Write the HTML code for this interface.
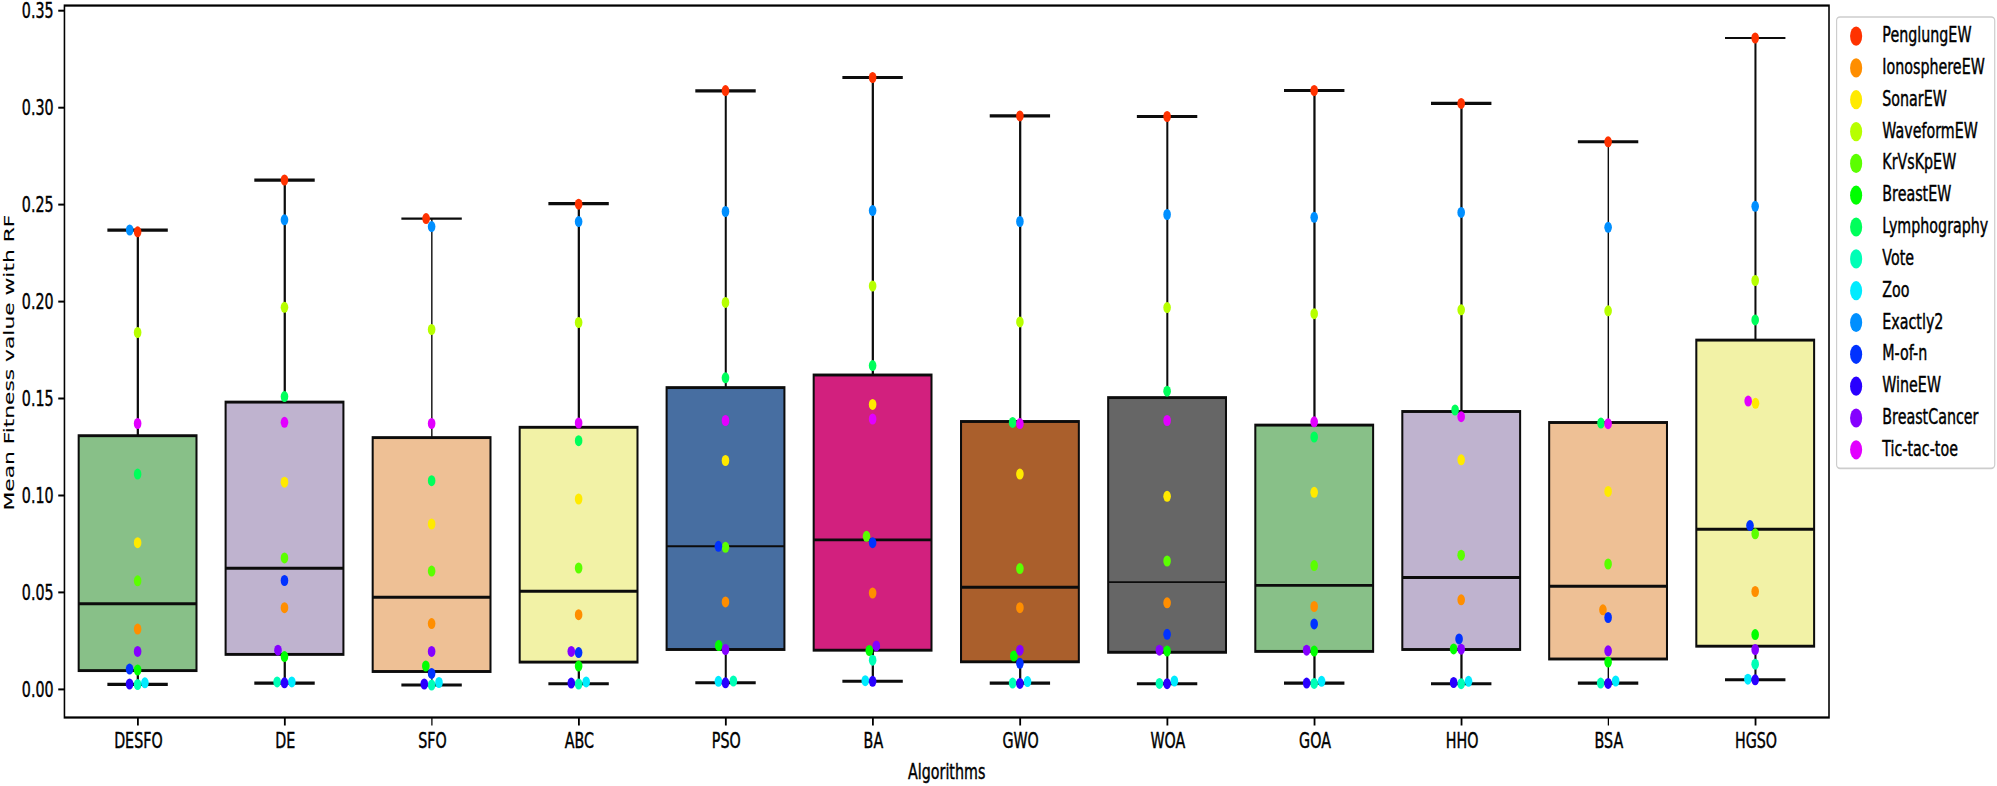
<!DOCTYPE html>
<html lang="en"><head><meta charset="utf-8"><title>Mean Fitness value with RF</title>
<style>html,body{margin:0;padding:0;background:#fff}svg{display:block}</style></head>
<body>
<svg width="1997" height="786" viewBox="0 0 1997 786" font-family='"DejaVu Sans","Liberation Sans",sans-serif' fill="#000">
<rect width="1997" height="786" fill="#fff"/>
<g transform="scale(0.7 1)">
<g stroke="#0c0c0c" fill="none">
<path d="M196.9 230.2V435.7M196.9 670.6V684.4" stroke-width="3.2"/>
<path d="M153.4 230.2H239.7" stroke-width="3.2"/>
<path d="M153.4 684.4H239.7" stroke-width="3.1"/>
<rect x="112.4" y="435.7" width="168.3" height="234.9" fill="#88c088" stroke-width="2.9"/>
<path d="M112.4 603.7H280.7" stroke-width="2.9"/>
</g>
<g stroke="#0c0c0c" fill="none">
<path d="M406.8 180.1V402.1M406.8 654.4V683.1" stroke-width="3.2"/>
<path d="M363.3 180.1H449.6" stroke-width="3.2"/>
<path d="M363.3 683.1H449.6" stroke-width="3.1"/>
<rect x="322.3" y="402.1" width="168.3" height="252.3" fill="#bfb3cf" stroke-width="2.9"/>
<path d="M322.3 568.3H490.6" stroke-width="2.9"/>
</g>
<g stroke="#0c0c0c" fill="none">
<path d="M616.9 218.6V437.6M616.9 671.5V685.0" stroke-width="2.0"/>
<path d="M573.4 218.6H659.7" stroke-width="2.2"/>
<path d="M573.4 685.0H659.7" stroke-width="3.1"/>
<rect x="532.4" y="437.6" width="168.3" height="233.9" fill="#eec095" stroke-width="2.9"/>
<path d="M532.4 597.3H700.7" stroke-width="2.9"/>
</g>
<g stroke="#0c0c0c" fill="none">
<path d="M826.9 203.6V427.3M826.9 662.1V683.7" stroke-width="3.2"/>
<path d="M783.4 203.6H869.7" stroke-width="3.2"/>
<path d="M783.4 683.7H869.7" stroke-width="3.1"/>
<rect x="742.4" y="427.3" width="168.3" height="234.8" fill="#f2f2a6" stroke-width="2.9"/>
<path d="M742.4 591.2H910.7" stroke-width="2.9"/>
</g>
<g stroke="#0c0c0c" fill="none">
<path d="M1036.8 90.9V387.6M1036.8 649.5V682.8" stroke-width="2.9"/>
<path d="M993.3 90.9H1079.6" stroke-width="3.1"/>
<path d="M993.3 682.8H1079.6" stroke-width="3.1"/>
<rect x="952.3" y="387.6" width="168.3" height="261.9" fill="#476ea1" stroke-width="2.9"/>
<path d="M952.3 546.3H1120.6" stroke-width="1.9"/>
</g>
<g stroke="#0c0c0c" fill="none">
<path d="M1246.9 77.5V375.0M1246.9 650.2V681.3" stroke-width="3.2"/>
<path d="M1203.4 77.5H1289.7" stroke-width="3.2"/>
<path d="M1203.4 681.3H1289.7" stroke-width="3.1"/>
<rect x="1162.4" y="375.0" width="168.3" height="275.2" fill="#d2207e" stroke-width="2.9"/>
<path d="M1162.4 539.9H1330.7" stroke-width="2.9"/>
</g>
<g stroke="#0c0c0c" fill="none">
<path d="M1457.4 115.9V421.5M1457.4 661.8V683.1" stroke-width="3.2"/>
<path d="M1413.9 115.9H1500.1" stroke-width="3.2"/>
<path d="M1413.9 683.1H1500.1" stroke-width="3.1"/>
<rect x="1372.9" y="421.5" width="168.3" height="240.3" fill="#aa5f2c" stroke-width="2.9"/>
<path d="M1372.9 587.3H1541.1" stroke-width="2.9"/>
</g>
<g stroke="#0c0c0c" fill="none">
<path d="M1667.6 116.5V397.6M1667.6 652.3V683.7" stroke-width="2.9"/>
<path d="M1624.1 116.5H1710.4" stroke-width="3.1"/>
<path d="M1624.1 683.7H1710.4" stroke-width="3.1"/>
<rect x="1583.1" y="397.6" width="168.3" height="254.7" fill="#666666" stroke-width="2.9"/>
<path d="M1583.1 582.1H1751.4" stroke-width="1.8"/>
</g>
<g stroke="#0c0c0c" fill="none">
<path d="M1877.8 90.5V425.1M1877.8 651.4V683.1" stroke-width="3.2"/>
<path d="M1834.3 90.5H1920.6" stroke-width="3.2"/>
<path d="M1834.3 683.1H1920.6" stroke-width="3.1"/>
<rect x="1793.3" y="425.1" width="168.3" height="226.3" fill="#88c088" stroke-width="2.9"/>
<path d="M1793.3 585.4H1961.6" stroke-width="2.9"/>
</g>
<g stroke="#0c0c0c" fill="none">
<path d="M2087.8 103.4V411.5M2087.8 649.5V683.7" stroke-width="3.2"/>
<path d="M2044.3 103.4H2130.6" stroke-width="3.2"/>
<path d="M2044.3 683.7H2130.6" stroke-width="3.1"/>
<rect x="2003.3" y="411.5" width="168.3" height="238.0" fill="#bfb3cf" stroke-width="2.9"/>
<path d="M2003.3 577.5H2171.6" stroke-width="2.9"/>
</g>
<g stroke="#0c0c0c" fill="none">
<path d="M2297.6 141.8V422.5M2297.6 659.0V683.1" stroke-width="2.0"/>
<path d="M2254.1 141.8H2340.4" stroke-width="3.1"/>
<path d="M2254.1 683.1H2340.4" stroke-width="3.1"/>
<rect x="2213.1" y="422.5" width="168.3" height="236.5" fill="#eec095" stroke-width="2.9"/>
<path d="M2213.1 586.3H2381.4" stroke-width="2.9"/>
</g>
<g stroke="#0c0c0c" fill="none">
<path d="M2507.8 38.0V340.1M2507.8 646.2V679.8" stroke-width="2.9"/>
<path d="M2464.3 38.0H2550.6" stroke-width="2.2"/>
<path d="M2464.3 679.8H2550.6" stroke-width="3.1"/>
<rect x="2423.3" y="340.1" width="168.3" height="306.1" fill="#f2f2a6" stroke-width="2.9"/>
<path d="M2423.3 529.2H2591.6" stroke-width="2.9"/>
</g>
<g fill="#ff3200">
<ellipse cx="196.6" cy="231.8" rx="5.43" ry="5.5"/>
<ellipse cx="406.4" cy="180.0" rx="5.43" ry="5.5"/>
<ellipse cx="608.7" cy="218.6" rx="5.43" ry="5.5"/>
<ellipse cx="826.6" cy="204.2" rx="5.43" ry="5.5"/>
<ellipse cx="1036.4" cy="90.6" rx="5.43" ry="5.5"/>
<ellipse cx="1246.6" cy="77.5" rx="5.43" ry="5.5"/>
<ellipse cx="1457.0" cy="115.9" rx="5.43" ry="5.5"/>
<ellipse cx="1667.3" cy="116.5" rx="5.43" ry="5.5"/>
<ellipse cx="1877.4" cy="90.5" rx="5.43" ry="5.5"/>
<ellipse cx="2087.4" cy="103.4" rx="5.43" ry="5.5"/>
<ellipse cx="2297.3" cy="141.8" rx="5.43" ry="5.5"/>
<ellipse cx="2507.4" cy="38.0" rx="5.43" ry="5.5"/>
</g>
<g fill="#ff8e00">
<ellipse cx="196.6" cy="629.1" rx="5.43" ry="5.5"/>
<ellipse cx="406.4" cy="607.7" rx="5.43" ry="5.5"/>
<ellipse cx="616.6" cy="623.6" rx="5.43" ry="5.5"/>
<ellipse cx="826.6" cy="614.7" rx="5.43" ry="5.5"/>
<ellipse cx="1036.4" cy="601.9" rx="5.43" ry="5.5"/>
<ellipse cx="1246.6" cy="593.0" rx="5.43" ry="5.5"/>
<ellipse cx="1457.0" cy="607.7" rx="5.43" ry="5.5"/>
<ellipse cx="1667.3" cy="602.8" rx="5.43" ry="5.5"/>
<ellipse cx="1877.4" cy="606.5" rx="5.43" ry="5.5"/>
<ellipse cx="2087.4" cy="599.8" rx="5.43" ry="5.5"/>
<ellipse cx="2289.9" cy="609.8" rx="5.43" ry="5.5"/>
<ellipse cx="2507.4" cy="591.5" rx="5.43" ry="5.5"/>
</g>
<g fill="#ffea00">
<ellipse cx="196.6" cy="542.7" rx="5.43" ry="5.5"/>
<ellipse cx="406.4" cy="482.2" rx="5.43" ry="5.5"/>
<ellipse cx="616.6" cy="524.0" rx="5.43" ry="5.5"/>
<ellipse cx="826.6" cy="499.0" rx="5.43" ry="5.5"/>
<ellipse cx="1036.4" cy="460.5" rx="5.43" ry="5.5"/>
<ellipse cx="1246.6" cy="404.4" rx="5.43" ry="5.5"/>
<ellipse cx="1457.0" cy="474.1" rx="5.43" ry="5.5"/>
<ellipse cx="1667.3" cy="496.3" rx="5.43" ry="5.5"/>
<ellipse cx="1877.4" cy="492.3" rx="5.43" ry="5.5"/>
<ellipse cx="2087.4" cy="459.8" rx="5.43" ry="5.5"/>
<ellipse cx="2297.3" cy="491.4" rx="5.43" ry="5.5"/>
<ellipse cx="2507.9" cy="403.3" rx="5.43" ry="5.5"/>
</g>
<g fill="#b7ff00">
<ellipse cx="196.6" cy="332.5" rx="5.43" ry="5.5"/>
<ellipse cx="406.4" cy="307.3" rx="5.43" ry="5.5"/>
<ellipse cx="616.6" cy="329.5" rx="5.43" ry="5.5"/>
<ellipse cx="826.6" cy="322.5" rx="5.43" ry="5.5"/>
<ellipse cx="1036.4" cy="302.4" rx="5.43" ry="5.5"/>
<ellipse cx="1246.6" cy="286.0" rx="5.43" ry="5.5"/>
<ellipse cx="1457.0" cy="321.9" rx="5.43" ry="5.5"/>
<ellipse cx="1667.3" cy="307.6" rx="5.43" ry="5.5"/>
<ellipse cx="1877.4" cy="313.7" rx="5.43" ry="5.5"/>
<ellipse cx="2087.4" cy="309.8" rx="5.43" ry="5.5"/>
<ellipse cx="2297.3" cy="310.8" rx="5.43" ry="5.5"/>
<ellipse cx="2507.4" cy="280.5" rx="5.43" ry="5.5"/>
</g>
<g fill="#5bff00">
<ellipse cx="196.6" cy="580.8" rx="5.43" ry="5.5"/>
<ellipse cx="406.4" cy="557.9" rx="5.43" ry="5.5"/>
<ellipse cx="616.6" cy="571.1" rx="5.43" ry="5.5"/>
<ellipse cx="826.6" cy="568.0" rx="5.43" ry="5.5"/>
<ellipse cx="1036.4" cy="547.3" rx="5.43" ry="5.5"/>
<ellipse cx="1237.9" cy="536.3" rx="5.43" ry="5.5"/>
<ellipse cx="1457.0" cy="568.6" rx="5.43" ry="5.5"/>
<ellipse cx="1667.3" cy="561.0" rx="5.43" ry="5.5"/>
<ellipse cx="1877.4" cy="565.6" rx="5.43" ry="5.5"/>
<ellipse cx="2087.4" cy="555.2" rx="5.43" ry="5.5"/>
<ellipse cx="2297.3" cy="564.0" rx="5.43" ry="5.5"/>
<ellipse cx="2507.4" cy="533.8" rx="5.43" ry="5.5"/>
</g>
<g fill="#00ff00">
<ellipse cx="196.6" cy="670.0" rx="5.43" ry="5.5"/>
<ellipse cx="406.4" cy="656.6" rx="5.43" ry="5.5"/>
<ellipse cx="608.3" cy="666.0" rx="5.43" ry="5.5"/>
<ellipse cx="826.6" cy="666.0" rx="5.43" ry="5.5"/>
<ellipse cx="1026.7" cy="645.6" rx="5.43" ry="5.5"/>
<ellipse cx="1241.9" cy="650.5" rx="5.43" ry="5.5"/>
<ellipse cx="1448.3" cy="656.0" rx="5.43" ry="5.5"/>
<ellipse cx="1667.3" cy="651.1" rx="5.43" ry="5.5"/>
<ellipse cx="1877.4" cy="651.1" rx="5.43" ry="5.5"/>
<ellipse cx="2076.6" cy="648.9" rx="5.43" ry="5.5"/>
<ellipse cx="2297.3" cy="662.1" rx="5.43" ry="5.5"/>
<ellipse cx="2507.4" cy="634.6" rx="5.43" ry="5.5"/>
</g>
<g fill="#00ff5b">
<ellipse cx="196.6" cy="474.1" rx="5.43" ry="5.5"/>
<ellipse cx="406.4" cy="396.6" rx="5.43" ry="5.5"/>
<ellipse cx="616.6" cy="480.7" rx="5.43" ry="5.5"/>
<ellipse cx="826.6" cy="440.7" rx="5.43" ry="5.5"/>
<ellipse cx="1036.4" cy="377.8" rx="5.43" ry="5.5"/>
<ellipse cx="1246.6" cy="365.6" rx="5.43" ry="5.5"/>
<ellipse cx="1446.6" cy="422.4" rx="5.43" ry="5.5"/>
<ellipse cx="1667.3" cy="391.2" rx="5.43" ry="5.5"/>
<ellipse cx="1877.4" cy="437.0" rx="5.43" ry="5.5"/>
<ellipse cx="2078.7" cy="410.0" rx="5.43" ry="5.5"/>
<ellipse cx="2287.1" cy="423.1" rx="5.43" ry="5.5"/>
<ellipse cx="2507.4" cy="319.9" rx="5.43" ry="5.5"/>
</g>
<g fill="#00ffb6">
<ellipse cx="196.6" cy="684.5" rx="5.43" ry="5.5"/>
<ellipse cx="395.9" cy="681.9" rx="5.43" ry="5.5"/>
<ellipse cx="616.6" cy="685.0" rx="5.43" ry="5.5"/>
<ellipse cx="826.6" cy="684.0" rx="5.43" ry="5.5"/>
<ellipse cx="1047.7" cy="681.0" rx="5.43" ry="5.5"/>
<ellipse cx="1246.6" cy="660.2" rx="5.43" ry="5.5"/>
<ellipse cx="1446.6" cy="683.1" rx="5.43" ry="5.5"/>
<ellipse cx="1656.3" cy="683.4" rx="5.43" ry="5.5"/>
<ellipse cx="1877.4" cy="683.4" rx="5.43" ry="5.5"/>
<ellipse cx="2087.4" cy="683.7" rx="5.43" ry="5.5"/>
<ellipse cx="2286.7" cy="683.1" rx="5.43" ry="5.5"/>
<ellipse cx="2507.4" cy="664.2" rx="5.43" ry="5.5"/>
</g>
<g fill="#00ebff">
<ellipse cx="207.0" cy="682.8" rx="5.43" ry="5.5"/>
<ellipse cx="416.9" cy="681.9" rx="5.43" ry="5.5"/>
<ellipse cx="627.1" cy="682.5" rx="5.43" ry="5.5"/>
<ellipse cx="837.4" cy="681.9" rx="5.43" ry="5.5"/>
<ellipse cx="1026.3" cy="681.3" rx="5.43" ry="5.5"/>
<ellipse cx="1236.1" cy="680.7" rx="5.43" ry="5.5"/>
<ellipse cx="1467.9" cy="681.6" rx="5.43" ry="5.5"/>
<ellipse cx="1677.7" cy="681.0" rx="5.43" ry="5.5"/>
<ellipse cx="1888.0" cy="681.3" rx="5.43" ry="5.5"/>
<ellipse cx="2097.9" cy="681.3" rx="5.43" ry="5.5"/>
<ellipse cx="2308.1" cy="681.0" rx="5.43" ry="5.5"/>
<ellipse cx="2497.0" cy="679.2" rx="5.43" ry="5.5"/>
</g>
<g fill="#008fff">
<ellipse cx="185.3" cy="230.0" rx="5.43" ry="5.5"/>
<ellipse cx="406.4" cy="219.8" rx="5.43" ry="5.5"/>
<ellipse cx="616.6" cy="226.6" rx="5.43" ry="5.5"/>
<ellipse cx="826.6" cy="221.6" rx="5.43" ry="5.5"/>
<ellipse cx="1036.4" cy="211.5" rx="5.43" ry="5.5"/>
<ellipse cx="1246.6" cy="210.6" rx="5.43" ry="5.5"/>
<ellipse cx="1457.0" cy="221.5" rx="5.43" ry="5.5"/>
<ellipse cx="1667.3" cy="214.5" rx="5.43" ry="5.5"/>
<ellipse cx="1877.4" cy="217.3" rx="5.43" ry="5.5"/>
<ellipse cx="2087.4" cy="212.4" rx="5.43" ry="5.5"/>
<ellipse cx="2297.3" cy="227.3" rx="5.43" ry="5.5"/>
<ellipse cx="2507.4" cy="206.3" rx="5.43" ry="5.5"/>
</g>
<g fill="#0032ff">
<ellipse cx="185.1" cy="669.1" rx="5.43" ry="5.5"/>
<ellipse cx="406.4" cy="580.5" rx="5.43" ry="5.5"/>
<ellipse cx="616.6" cy="673.4" rx="5.43" ry="5.5"/>
<ellipse cx="826.6" cy="652.6" rx="5.43" ry="5.5"/>
<ellipse cx="1026.3" cy="546.3" rx="5.43" ry="5.5"/>
<ellipse cx="1246.6" cy="542.7" rx="5.43" ry="5.5"/>
<ellipse cx="1457.0" cy="663.3" rx="5.43" ry="5.5"/>
<ellipse cx="1667.3" cy="634.3" rx="5.43" ry="5.5"/>
<ellipse cx="1877.4" cy="623.9" rx="5.43" ry="5.5"/>
<ellipse cx="2084.4" cy="638.9" rx="5.43" ry="5.5"/>
<ellipse cx="2297.3" cy="617.5" rx="5.43" ry="5.5"/>
<ellipse cx="2500.0" cy="525.6" rx="5.43" ry="5.5"/>
</g>
<g fill="#2900ff">
<ellipse cx="185.1" cy="684.0" rx="5.43" ry="5.5"/>
<ellipse cx="406.4" cy="682.8" rx="5.43" ry="5.5"/>
<ellipse cx="606.1" cy="684.0" rx="5.43" ry="5.5"/>
<ellipse cx="816.1" cy="683.1" rx="5.43" ry="5.5"/>
<ellipse cx="1036.4" cy="682.8" rx="5.43" ry="5.5"/>
<ellipse cx="1246.6" cy="681.3" rx="5.43" ry="5.5"/>
<ellipse cx="1457.0" cy="683.4" rx="5.43" ry="5.5"/>
<ellipse cx="1667.3" cy="683.7" rx="5.43" ry="5.5"/>
<ellipse cx="1866.6" cy="683.1" rx="5.43" ry="5.5"/>
<ellipse cx="2076.6" cy="682.5" rx="5.43" ry="5.5"/>
<ellipse cx="2297.3" cy="683.4" rx="5.43" ry="5.5"/>
<ellipse cx="2507.4" cy="679.8" rx="5.43" ry="5.5"/>
</g>
<g fill="#8500ff">
<ellipse cx="196.6" cy="651.4" rx="5.43" ry="5.5"/>
<ellipse cx="397.1" cy="650.2" rx="5.43" ry="5.5"/>
<ellipse cx="616.6" cy="651.4" rx="5.43" ry="5.5"/>
<ellipse cx="816.1" cy="651.4" rx="5.43" ry="5.5"/>
<ellipse cx="1036.4" cy="649.5" rx="5.43" ry="5.5"/>
<ellipse cx="1251.9" cy="645.9" rx="5.43" ry="5.5"/>
<ellipse cx="1457.0" cy="650.2" rx="5.43" ry="5.5"/>
<ellipse cx="1656.3" cy="650.2" rx="5.43" ry="5.5"/>
<ellipse cx="1866.6" cy="650.2" rx="5.43" ry="5.5"/>
<ellipse cx="2087.4" cy="649.2" rx="5.43" ry="5.5"/>
<ellipse cx="2297.3" cy="650.8" rx="5.43" ry="5.5"/>
<ellipse cx="2507.4" cy="649.5" rx="5.43" ry="5.5"/>
</g>
<g fill="#e200ff">
<ellipse cx="196.6" cy="423.5" rx="5.43" ry="5.5"/>
<ellipse cx="406.4" cy="422.3" rx="5.43" ry="5.5"/>
<ellipse cx="616.6" cy="423.5" rx="5.43" ry="5.5"/>
<ellipse cx="826.6" cy="423.0" rx="5.43" ry="5.5"/>
<ellipse cx="1036.4" cy="420.5" rx="5.43" ry="5.5"/>
<ellipse cx="1246.6" cy="419.0" rx="5.43" ry="5.5"/>
<ellipse cx="1457.0" cy="423.6" rx="5.43" ry="5.5"/>
<ellipse cx="1667.3" cy="420.5" rx="5.43" ry="5.5"/>
<ellipse cx="1877.4" cy="421.8" rx="5.43" ry="5.5"/>
<ellipse cx="2087.4" cy="416.7" rx="5.43" ry="5.5"/>
<ellipse cx="2297.3" cy="423.7" rx="5.43" ry="5.5"/>
<ellipse cx="2497.4" cy="401.1" rx="5.43" ry="5.5"/>
</g>
<rect x="92.07" y="5.55" width="2520.79" height="711.95" fill="none" stroke="#000" stroke-width="2.25"/>
<g stroke="#000" stroke-width="2.0">
<path d="M83.2 689.4H92.1"/>
<path d="M83.2 592.4H92.1"/>
<path d="M83.2 495.5H92.1"/>
<path d="M83.2 398.5H92.1"/>
<path d="M83.2 301.6H92.1"/>
<path d="M83.2 204.6H92.1"/>
<path d="M83.2 107.7H92.1"/>
<path d="M83.2 10.7H92.1"/>
<path d="M197.0 717.5V725.5" stroke-width="2.6"/>
<path d="M406.9 717.5V725.5" stroke-width="2.6"/>
<path d="M617.0 717.5V725.5" stroke-width="1.8"/>
<path d="M827.0 717.5V725.5" stroke-width="2.6"/>
<path d="M1036.9 717.5V725.5" stroke-width="2.6"/>
<path d="M1247.0 717.5V725.5" stroke-width="2.6"/>
<path d="M1457.4 717.5V725.5" stroke-width="2.6"/>
<path d="M1667.7 717.5V725.5" stroke-width="2.6"/>
<path d="M1877.9 717.5V725.5" stroke-width="2.6"/>
<path d="M2087.9 717.5V725.5" stroke-width="2.6"/>
<path d="M2297.7 717.5V725.5" stroke-width="1.8"/>
<path d="M2507.9 717.5V725.5" stroke-width="2.6"/>
</g>
<text stroke="#000" stroke-width="0.45" x="76.6" y="696.8" font-size="20.4" text-anchor="end">0.00</text>
<text stroke="#000" stroke-width="0.45" x="76.6" y="599.8" font-size="20.4" text-anchor="end">0.05</text>
<text stroke="#000" stroke-width="0.45" x="76.6" y="502.9" font-size="20.4" text-anchor="end">0.10</text>
<text stroke="#000" stroke-width="0.45" x="76.6" y="405.9" font-size="20.4" text-anchor="end">0.15</text>
<text stroke="#000" stroke-width="0.45" x="76.6" y="309.0" font-size="20.4" text-anchor="end">0.20</text>
<text stroke="#000" stroke-width="0.45" x="76.6" y="212.0" font-size="20.4" text-anchor="end">0.25</text>
<text stroke="#000" stroke-width="0.45" x="76.6" y="115.1" font-size="20.4" text-anchor="end">0.30</text>
<text stroke="#000" stroke-width="0.45" x="76.6" y="18.1" font-size="20.4" text-anchor="end">0.35</text>
<text stroke="#000" stroke-width="0.45" x="197.7" y="748.5" font-size="20.4" text-anchor="middle">DESFO</text>
<text stroke="#000" stroke-width="0.45" x="407.6" y="748.5" font-size="20.4" text-anchor="middle">DE</text>
<text stroke="#000" stroke-width="0.45" x="617.7" y="748.5" font-size="20.4" text-anchor="middle">SFO</text>
<text stroke="#000" stroke-width="0.45" x="827.7" y="748.5" font-size="20.4" text-anchor="middle">ABC</text>
<text stroke="#000" stroke-width="0.45" x="1037.6" y="748.5" font-size="20.4" text-anchor="middle">PSO</text>
<text stroke="#000" stroke-width="0.45" x="1247.7" y="748.5" font-size="20.4" text-anchor="middle">BA</text>
<text stroke="#000" stroke-width="0.45" x="1458.1" y="748.5" font-size="20.4" text-anchor="middle">GWO</text>
<text stroke="#000" stroke-width="0.45" x="1668.4" y="748.5" font-size="20.4" text-anchor="middle">WOA</text>
<text stroke="#000" stroke-width="0.45" x="1878.6" y="748.5" font-size="20.4" text-anchor="middle">GOA</text>
<text stroke="#000" stroke-width="0.45" x="2088.6" y="748.5" font-size="20.4" text-anchor="middle">HHO</text>
<text stroke="#000" stroke-width="0.45" x="2298.4" y="748.5" font-size="20.4" text-anchor="middle">BSA</text>
<text stroke="#000" stroke-width="0.45" x="2508.6" y="748.5" font-size="20.4" text-anchor="middle">HGSO</text>
<text stroke="#000" stroke-width="0.45" x="1352.4" y="778.6" font-size="20.4" text-anchor="middle">Algorithms</text>
<text stroke="#000" stroke-width="0.15" transform="translate(19.6 362.6) rotate(-90) scale(1 0.96)" font-size="21.8" text-anchor="middle">Mean Fitness value with RF</text>
<rect x="2623.7" y="17.0" width="225.9" height="451.3" rx="5" ry="3.5" fill="#fff" stroke="#cdcdcd" stroke-width="1.7"/>
<ellipse cx="2651.6" cy="36.1" rx="8.64" ry="9.6" fill="#ff3200"/>
<text stroke="#000" stroke-width="0.45" x="2689.0" y="42.2" font-size="20.4">PenglungEW</text>
<ellipse cx="2651.6" cy="67.9" rx="8.64" ry="9.6" fill="#ff8e00"/>
<text stroke="#000" stroke-width="0.45" x="2689.0" y="74.0" font-size="20.4">IonosphereEW</text>
<ellipse cx="2651.6" cy="99.7" rx="8.64" ry="9.6" fill="#ffea00"/>
<text stroke="#000" stroke-width="0.45" x="2689.0" y="105.8" font-size="20.4">SonarEW</text>
<ellipse cx="2651.6" cy="131.6" rx="8.64" ry="9.6" fill="#b7ff00"/>
<text stroke="#000" stroke-width="0.45" x="2689.0" y="137.7" font-size="20.4">WaveformEW</text>
<ellipse cx="2651.6" cy="163.4" rx="8.64" ry="9.6" fill="#5bff00"/>
<text stroke="#000" stroke-width="0.45" x="2689.0" y="169.5" font-size="20.4">KrVsKpEW</text>
<ellipse cx="2651.6" cy="195.2" rx="8.64" ry="9.6" fill="#00ff00"/>
<text stroke="#000" stroke-width="0.45" x="2689.0" y="201.3" font-size="20.4">BreastEW</text>
<ellipse cx="2651.6" cy="227.0" rx="8.64" ry="9.6" fill="#00ff5b"/>
<text stroke="#000" stroke-width="0.45" x="2689.0" y="233.1" font-size="20.4">Lymphography</text>
<ellipse cx="2651.6" cy="258.9" rx="8.64" ry="9.6" fill="#00ffb6"/>
<text stroke="#000" stroke-width="0.45" x="2689.0" y="265.0" font-size="20.4">Vote</text>
<ellipse cx="2651.6" cy="290.7" rx="8.64" ry="9.6" fill="#00ebff"/>
<text stroke="#000" stroke-width="0.45" x="2689.0" y="296.8" font-size="20.4">Zoo</text>
<ellipse cx="2651.6" cy="322.5" rx="8.64" ry="9.6" fill="#008fff"/>
<text stroke="#000" stroke-width="0.45" x="2689.0" y="328.6" font-size="20.4">Exactly2</text>
<ellipse cx="2651.6" cy="354.3" rx="8.64" ry="9.6" fill="#0032ff"/>
<text stroke="#000" stroke-width="0.45" x="2689.0" y="360.4" font-size="20.4">M-of-n</text>
<ellipse cx="2651.6" cy="386.2" rx="8.64" ry="9.6" fill="#2900ff"/>
<text stroke="#000" stroke-width="0.45" x="2689.0" y="392.3" font-size="20.4">WineEW</text>
<ellipse cx="2651.6" cy="418.0" rx="8.64" ry="9.6" fill="#8500ff"/>
<text stroke="#000" stroke-width="0.45" x="2689.0" y="424.1" font-size="20.4">BreastCancer</text>
<ellipse cx="2651.6" cy="449.8" rx="8.64" ry="9.6" fill="#e200ff"/>
<text stroke="#000" stroke-width="0.45" x="2689.0" y="455.9" font-size="20.4">Tic-tac-toe</text>
</g></svg>
</body></html>
